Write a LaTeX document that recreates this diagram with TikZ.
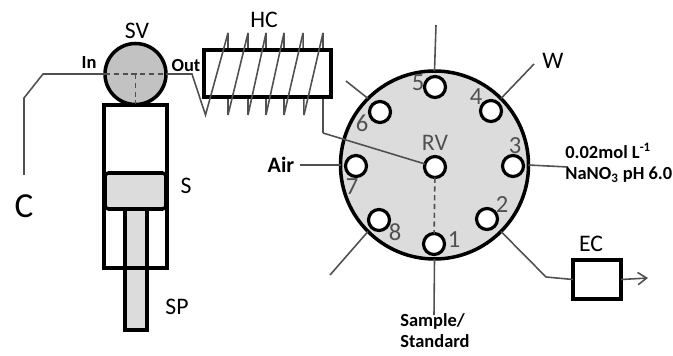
\documentclass[tikz,border=0pt]{standalone}
\usepackage{amsmath}
\usepackage{fontspec}
\setmainfont{Carlito}
\usetikzlibrary{arrows.meta, positioning}
\definecolor{discgray}{HTML}{DCDCDC}
\definecolor{valvegray}{HTML}{C2C2C2}
\definecolor{tubegray}{HTML}{505050}
\tikzset{
  wall/.style={draw=black,line width=2pt,outer sep=0pt},
  tube/.style={draw=tubegray,line width=0.9pt},
  porthole/.style={circle,wall,line width=1.8pt,fill=white,minimum size=0.42cm,inner sep=0pt},
  portnum/.style={text=tubegray,font=\fontsize{14}{14}\selectfont},
  tag/.style={font=\fontsize{13.5}{13.5}\selectfont},
  smalltag/.style={font=\fontsize{10.5}{12}\selectfont\bfseries}
}
\begin{document}
\begin{tikzpicture}
  \useasboundingbox (0,0) rectangle (13.46,7.10);
  % free ends and bends
  \coordinate (cend) at (0.48,3.60);
  \coordinate (cbendb) at (0.48,5.14);
  \coordinate (cbenda) at (0.86,5.62);
  \coordinate (outbend) at (3.84,5.62);
  \coordinate (hcbot0) at (4.11,4.80);
  \coordinate (hctop1) at (4.56,6.44);
  \coordinate (hcbot1) at (4.56,4.80);
  \coordinate (hctop2) at (4.96,6.44);
  \coordinate (hcbot2) at (4.96,4.80);
  \coordinate (hctop3) at (5.32,6.44);
  \coordinate (hcbot3) at (5.32,4.80);
  \coordinate (hctop4) at (5.68,6.44);
  \coordinate (hcbot4) at (5.68,4.80);
  \coordinate (hctop5) at (6.06,6.44);
  \coordinate (hcbot5) at (6.08,4.80);
  \coordinate (hctop6) at (6.46,6.44);
  \coordinate (hcexit) at (6.46,4.44);
  \coordinate (endfive) at (8.72,6.60);
  \coordinate (endfour) at (10.68,5.82);
  \coordinate (endthree) at (11.36,3.76);
  \coordinate (endsix) at (6.92,5.48);
  \coordinate (endair) at (6.00,3.80);
  \coordinate (endeight) at (6.60,1.60);
  \coordinate (endone) at (8.68,0.80);
  \coordinate (bendec) at (10.92,1.56);
  \coordinate (endec) at (12.96,1.54);

  % syringe
  \node[rectangle,wall,minimum width=1.26cm,minimum height=3.26cm,inner sep=0pt](cyl)at(2.71,3.37){};
  \node[rectangle,wall,fill=discgray,rounded corners=2pt,minimum width=1.22cm,
        minimum height=0.72cm,inner sep=0pt](piston)at(2.71,3.28){};
  \node[rectangle,wall,fill=discgray,minimum width=0.44cm,minimum height=2.42cm,inner sep=0pt](rod)at(2.72,1.71){};
  \draw[wall](cyl.south west)--(cyl.south east);
  \node[circle,wall,fill=valvegray,minimum size=1.22cm,inner sep=0pt](sv)at(2.71,5.62){};
  \draw[tube,densely dashed](sv.west)--(sv.east);
  \draw[tube,densely dashed](sv.center)--(sv.south);
  \draw[tube](cend)--(cbendb)--(cbenda)--(sv.west);

  % holding coil
  \draw[tube](hctop1)--(hcbot1) (hctop2)--(hcbot2) (hctop3)--(hcbot3)
             (hctop4)--(hcbot4) (hctop5)--(hcbot5) (hctop6)--(hcexit);
  \node[rectangle,wall,fill=white,minimum width=2.54cm,minimum height=0.94cm,inner sep=0pt](hc)at(5.35,5.63){};
  \draw[tube](sv.east)--(outbend)--(hcbot0)--(hctop1) (hcbot1)--(hctop2)
             (hcbot2)--(hctop3) (hcbot3)--(hctop4) (hcbot4)--(hctop5) (hcbot5)--(hctop6);

  % rotary valve
  \node[circle,wall,fill=discgray,minimum size=3.76cm,inner sep=0pt](disc)at(8.69,3.80){};
  \draw[tube](disc.90)--(endfive);
  \draw[tube](disc.45)--(endfour);
  \draw[tube](disc.0)--(endthree);
  \draw[tube](disc.135)--(endsix);
  \draw[tube](disc.180)--(endair);
  \draw[tube](disc.225)--(endeight);
  \draw[tube](disc.270)--(endone);
  \draw[tube](disc.315)--(bendec);
  \node[rectangle,wall,line width=1.8pt,minimum width=0.96cm,minimum height=0.78cm,inner sep=0pt](ec)at(11.94,1.51){};
  \draw[tube](bendec)--(ec.west);
  \draw[tube,-{Straight Barb[length=5pt,width=7pt]}](ec.east)--(endec);

  \node[portnum](numfive)at(8.36,5.44){5};
  \node[portnum](numfour)at(9.52,5.16){4};
  \node[portnum](numthree)at(10.30,4.18){3};
  \node[portnum](numsix)at(7.24,4.64){6};
  \node[portnum](numseven)at(7.04,3.36){7};
  \node[portnum](numeight)at(7.90,2.46){8};
  \node[portnum](numone)at(9.08,2.30){1};
  \node[portnum](numtwo)at(10.04,3.00){2};
  \node[tag,text=tubegray](rvlabel)at(8.70,4.24){RV};

  \node[porthole](portrv)at(8.70,3.76){};
  \node[porthole](portfive)at(8.70,5.36){};
  \node[porthole](portfour)at(9.82,4.88){};
  \node[porthole](portthree)at(10.26,3.78){};
  \node[porthole](portsix)at(7.60,4.86){};
  \node[porthole](portseven)at(7.12,3.78){};
  \node[porthole](porteight)at(7.58,2.70){};
  \node[porthole](portone)at(8.68,2.22){};
  \node[porthole](porttwo)at(9.74,2.72){};
  \draw[tube](hcexit)--(portrv);
  \draw[tube,densely dashed](portrv)--(portone);

  % labels
  \node[tag](svlabel)at(2.74,6.48){SV};
  \node[tag](hclabel)at(5.28,6.70){HC};
  \node[smalltag](inlabel)at(1.78,5.84){In};
  \node[smalltag](outlabel)at(3.72,5.78){Out};
  \node[font=\fontsize{20}{20}\selectfont](clabel)at(0.48,2.98){C};
  \node[tag](slabel)at(3.72,3.38){S};
  \node[tag](splabel)at(3.54,0.96){SP};
  \node[font=\fontsize{12.5}{12.5}\selectfont\bfseries](airlabel)at(5.62,3.80){Air};
  \node[tag](wlabel)at(11.06,5.88){W};
  \node[tag](eclabel)at(11.82,2.22){EC};
  \node[smalltag,align=left,anchor=west,inner sep=0pt](nano)at(11.30,3.84){0.02mol L\textsuperscript{-1}\\NaNO\textsubscript{3} pH 6.0};
  \node[smalltag,align=left,anchor=north west,inner sep=0pt](sample)at(8.00,0.84){Sample/\\Standard};
\end{tikzpicture}
\end{document}
